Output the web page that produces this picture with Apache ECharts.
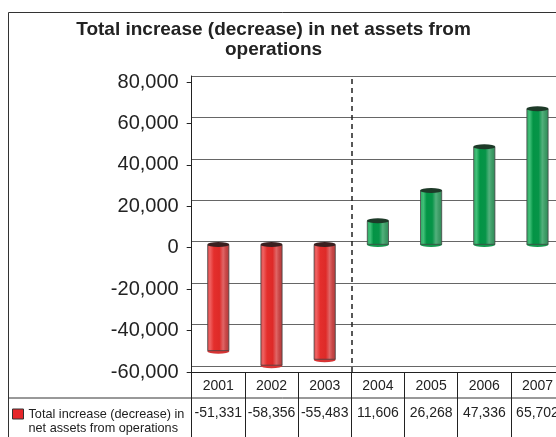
<!DOCTYPE html>
<html><head><meta charset="utf-8">
<script src="https://cdn.jsdelivr.net/npm/echarts@6/dist/echarts.min.js"></script>
<style>html,body{margin:0;padding:0;background:#fff}#c{width:556px;height:437px}</style>
</head><body><div id="c"></div>
<script>
// ---- data ----
const years = ['2001', '2002', '2003', '2004', '2005', '2006', '2007'];
const values = [-51331, -58356, -55483, 11606, 26268, 47336, 65702];
const seriesName = 'Total increase (decrease) in\nnet assets from operations';
const titleText = 'Total increase (decrease) in net assets from\noperations';
const yMin = -60000, yMax = 80000, yStep = 20000;
const dividerBefore = 3; // dashed line before 2004 (category index)

// ---- styling ----
const fmt = v => v.toLocaleString('en-US');
const sans = "'Liberation Sans', Arial, sans-serif";
const L = 191.7, W = 372.4, H = 290;

function grad(stops) {
  return { type: 'linear', x: 0, y: 0, x2: 1, y2: 0,
    colorStops: stops.map(s => ({ offset: s[0], color: s[1] })) };
}
const redGrad = grad([[0, '#d94848'], [0.12, '#ef6262'], [0.3, '#e42e2c'], [0.55, '#de2a28'], [0.72, '#e06666'], [0.85, '#c84646'], [1, '#b03c3c']]);
const greenGrad = grad([[0, '#2fa862'], [0.15, '#40c078'], [0.3, '#039445'], [0.55, '#079448'], [0.72, '#52b07c'], [0.85, '#3d9c66'], [1, '#2f8a58']]);

const gridBase = { left: L, width: W, containLabel: false, outerBoundsMode: 'none' };

const chart = echarts.init(document.getElementById('c'), null, { renderer: 'canvas' });
chart.setOption({
  animation: false,
  backgroundColor: '#fff',
  title: {
    text: titleText, left: 273.5, top: 20, padding: 0, textAlign: 'center',
    textStyle: { fontFamily: sans, fontSize: 19, fontWeight: 'bold', color: '#222', lineHeight: 20 }
  },
  graphic: [
    { type: 'rect', shape: { x: 8.5, y: 12.5, width: 700, height: 600 }, style: { fill: null, stroke: '#333', lineWidth: 1 }, silent: true },
    { type: 'line', shape: { x1: 8, y1: 398, x2: 600, y2: 398 }, style: { stroke: '#333', lineWidth: 1 }, silent: true }
  ],
  legend: {
    left: 12, top: 393, padding: 0, itemWidth: 11, itemHeight: 10, itemGap: 5,
    selectedMode: false,
    formatter: name => '\n' + name,
    data: [{ name: seriesName, icon: 'rect', itemStyle: { color: '#e5262a', borderColor: '#333', borderWidth: 1 } }],
    textStyle: { fontFamily: sans, fontSize: 12.7, lineHeight: 14, color: '#222' }
  },
  grid: [
    Object.assign({ top: 82, height: H }, gridBase),   // front: axes + table
    Object.assign({ top: 79, height: H }, gridBase),   // middle: bars
    Object.assign({ top: 76, height: H }, gridBase),   // back wall: gridlines
    Object.assign({ top: 76, height: 296 }, gridBase)  // dashed divider
  ],
  xAxis: [
    { gridIndex: 0, type: 'category', data: years, position: 'bottom',
      axisLine: { onZero: false, lineStyle: { color: '#222' } },
      axisTick: { show: true, length: 70, lineStyle: { color: '#222' } },
      axisLabel: { interval: 0, margin: 7, fontFamily: sans, fontSize: 14, color: '#222' } },
    { gridIndex: 0, type: 'category', data: years, position: 'bottom', offset: 26,
      axisLine: { show: false }, axisTick: { show: false },
      axisLabel: { interval: 0, margin: 8, fontFamily: sans, fontSize: 14, color: '#222',
        formatter: (v, i) => fmt(values[i]) } },
    { gridIndex: 0, type: 'category', data: years, position: 'bottom',
      axisLine: { onZero: true, lineStyle: { color: '#222' } }, axisTick: { show: false }, axisLabel: { show: false } },
    { gridIndex: 1, type: 'category', data: years, show: false },
    { gridIndex: 2, type: 'category', data: years, axisLine: { show: false }, axisTick: { show: false }, axisLabel: { show: false } },
    { gridIndex: 3, type: 'value', min: 0, max: years.length, show: false }
  ],
  yAxis: [
    { gridIndex: 0, type: 'value', min: yMin, max: yMax, interval: yStep,
      axisLine: { show: true, lineStyle: { color: '#222' } },
      axisTick: { show: true, length: 5, lineStyle: { color: '#222' } },
      axisLabel: { margin: 13, fontFamily: sans, fontSize: 20, color: '#222', formatter: fmt },
      splitLine: { show: false } },
    { gridIndex: 1, type: 'value', min: yMin, max: yMax, interval: yStep, show: false },
    { gridIndex: 2, type: 'value', min: yMin, max: yMax, interval: yStep,
      axisLine: { show: true, lineStyle: { color: '#222' } }, axisTick: { show: false }, axisLabel: { show: false },
      splitLine: { show: true, lineStyle: { color: '#666', width: 1 } } },
    { gridIndex: 3, type: 'value', min: 0, max: 1, show: false }
  ],
  series: [
    { name: 'base', type: 'pictorialBar', xAxisIndex: 3, yAxisIndex: 1, z: 2,
      symbol: 'circle', symbolSize: [22, 5], symbolOffset: [0, '50%'],
      data: values.map(v => ({ value: v, symbolPosition: v < 0 ? 'end' : 'start',
        itemStyle: { color: v < 0 ? '#d83434' : '#149a4e', borderColor: '#444', borderWidth: 0.8 } })) },
    { name: seriesName, type: 'bar', xAxisIndex: 3, yAxisIndex: 1, barWidth: 22, z: 3,
      data: values.map(v => ({ value: v, itemStyle: { color: v < 0 ? redGrad : greenGrad, borderColor: '#444', borderWidth: 0.8 } })) },
    { name: 'cap', type: 'pictorialBar', xAxisIndex: 3, yAxisIndex: 1, z: 4,
      symbol: 'circle', symbolSize: [22, 5], symbolOffset: [0, '-50%'],
      data: values.map(v => ({ value: v, symbolPosition: v < 0 ? 'start' : 'end',
        itemStyle: { color: v < 0 ? '#3a2020' : '#1d3a28', borderColor: '#222', borderWidth: 0.6 } })) },
    { name: 'divider', type: 'line', xAxisIndex: 5, yAxisIndex: 3, data: [], silent: true,
      markLine: { silent: true, symbol: 'none', label: { show: false },
        lineStyle: { color: '#222', width: 1.5, type: [5, 4] },
        data: [{ xAxis: dividerBefore }] } }
  ]
});
</script></body></html>
